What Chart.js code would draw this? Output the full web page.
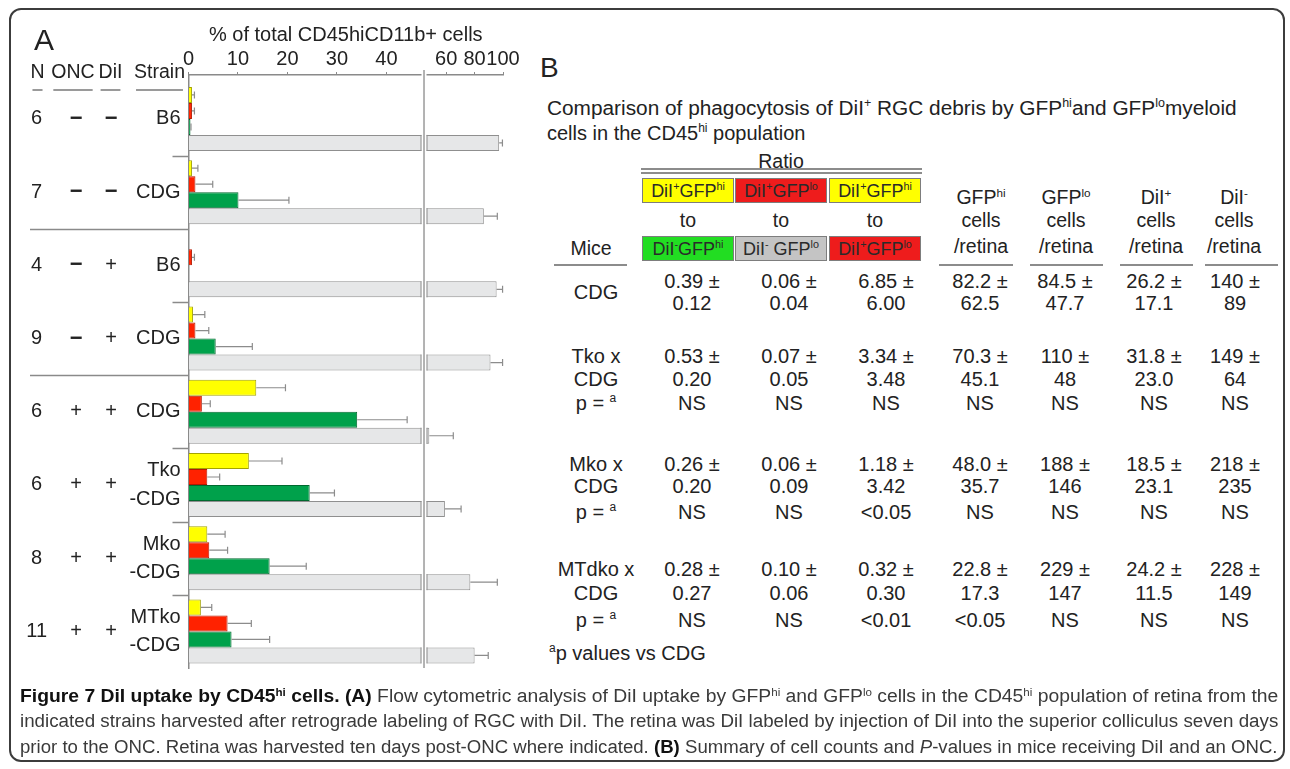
<!DOCTYPE html>
<html>
<head>
<meta charset="utf-8">
<title>Figure 7</title>
<script src="https://cdn.jsdelivr.net/npm/chart.js@4.4.1/dist/chart.umd.min.js"></script>
<style>
  body { margin: 0; background: #fff; }
  #page { position: relative; width: 1290px; height: 769px; overflow: hidden; background: #fff;
          font-family: "Liberation Sans", Arial, sans-serif; color: #222; }
  #frame { position: absolute; left: 9px; top: 8px; width: 1272px; height: 750px;
           border: 2px solid #3c3c3c; border-radius: 12px; pointer-events: none; }
  #chart-box { position: absolute; left: 0; top: 0; width: 530px; height: 690px; }
  .lbl { position: absolute; white-space: nowrap; line-height: 1.15; transform: translate(-50%, -50%); }
  .lft { transform: translate(0, -50%); transform-origin: 0 50%; }
  sup { font-size: 0.6em; vertical-align: 0.62em; line-height: 0; }
  .box { position: absolute; height: 25px; line-height: 25px; text-align: center; font-size: 18px;
         border: 1px solid #7d7d7d; box-sizing: border-box; color: #2a2a2a; white-space: nowrap; }
  .rule { position: absolute; height: 0; border-top: 2px solid #8c8c8c; }
  .cap { position: absolute; left: 20px; white-space: nowrap; font-size: 18px; color: #3a3a3a; line-height: 1.2; }
  .cap b { color: #111; }
</style>
</head>
<body>
<div id="page">
  <div id="chart-box"><canvas id="chart"></canvas></div>
  <div id="panel-b"></div>
  <div id="caption"></div>
  <div class="lbl lft" style="left:34px;top:40px;font-size:30px;">A</div>
  <div id="frame"></div>
</div>
<script>
//row labels of panel A (top to bottom)
const nLabels = ["6", "7", "4", "9", "6", "6", "8", "11"];
const oncLabels = ["−", "−", "−", "−", "+", "+", "+", "+"];
const dilLabels = ["−", "−", "+", "+", "+", "+", "+", "+"];
const strainLabels = ["B6", "CDG", "B6", "CDG", "CDG", ["Tko", "-CDG"], ["Mko", "-CDG"], ["MTko", "-CDG"]];
const xTicks = [0, 10, 20, 30, 40, 60, 80, 100];

//% of total CD45hiCD11b+ cells, mean and error
const yellowMean = [0.7, 0.7, 0, 0.9, 13.7, 12.2, 3.8, 2.5];
const yellowErr = [0.5, 1.2, 0, 2.4, 5.9, 6.7, 3.6, 2.2];
const redMean = [0.7, 1.4, 0.7, 1.4, 2.7, 3.8, 4.2, 7.9];
const redErr = [0.5, 3.5, 0.5, 2.7, 1.7, 2.5, 3.7, 4.8];
const greenMean = [0.4, 10.1, 0, 5.5, 34.1, 24.5, 16.4, 8.7];
const greenErr = [0.1, 10.2, 0, 7.4, 10.1, 5.0, 7.4, 7.7];
const grayMean = [97.3, 86.5, 95.5, 91.2, 48.1, 59.1, 77.0, 80.0];
const grayErr = [2.3, 9.5, 4.2, 8.5, 16.9, 11.4, 19.0, 9.6];

//panel B table
const miceCDG = ["CDG"];
const miceTko = ["Tko x", "CDG", "p = <sup>a</sup>"];
const miceMko = ["Mko x", "CDG", "p = <sup>a</sup>"];
const miceMTdko = ["MTdko x", "CDG", "p = <sup>a</sup>"];
const rowCDG = [["0.39 ±", "0.12"], ["0.06 ±", "0.04"], ["6.85 ±", "6.00"], ["82.2 ±", "62.5"], ["84.5 ±", "47.7"], ["26.2 ±", "17.1"], ["140 ±", "89"]];
const rowTko = [["0.53 ±", "0.20", "NS"], ["0.07 ±", "0.05", "NS"], ["3.34 ±", "3.48", "NS"], ["70.3 ±", "45.1", "NS"], ["110 ±", "48", "NS"], ["31.8 ±", "23.0", "NS"], ["149 ±", "64", "NS"]];
const rowMko = [["0.26 ±", "0.20", "NS"], ["0.06 ±", "0.09", "NS"], ["1.18 ±", "3.42", "&lt;0.05"], ["48.0 ±", "35.7", "NS"], ["188 ±", "146", "NS"], ["18.5 ±", "23.1", "NS"], ["218 ±", "235", "NS"]];
const rowMTdko = [["0.28 ±", "0.27", "NS"], ["0.10 ±", "0.06", "NS"], ["0.32 ±", "0.30", "&lt;0.01"], ["22.8 ±", "17.3", "&lt;0.05"], ["229 ±", "147", "NS"], ["24.2 ±", "11.5", "NS"], ["228 ±", "149", "NS"]];

//broken x axis: 0-47 then 46.5-100
const BREAK_AT = 47;
const RESUME_AT = 46.5;
const SPLIT_A = 0.7393;
const SPLIT_B = 0.7584;
const Y_MIN = -0.6;
const Y_MAX = 7.5;
const FONT = '"Liberation Sans", Arial, sans-serif';

class BrokenScale extends Chart.LinearScale {
  buildTicks() {
    return xTicks.map((v) => ({ value: v }));
  }
  getPixelForValue(value) {
    let d;
    if (value <= BREAK_AT) {
      d = (value / BREAK_AT) * SPLIT_A;
    } else {
      d = SPLIT_B + ((value - RESUME_AT) / (this.max - RESUME_AT)) * (1 - SPLIT_B);
    }
    return this.getPixelForDecimal(d);
  }
  getValueForPixel(pixel) {
    const d = this.getDecimalForPixel(pixel);
    if (d <= SPLIT_A) return (d / SPLIT_A) * BREAK_AT;
    return RESUME_AT + ((d - SPLIT_B) / (1 - SPLIT_B)) * (this.max - RESUME_AT);
  }
}
BrokenScale.id = "broken";
Chart.register(BrokenScale);

Chart.defaults.font.family = FONT;
Chart.defaults.color = "#222";

function series(label, mean, err, fill, border) {
  return {
    label: label,
    data: mean.map((v, i) => ({ x: v, y: i })),
    err: err,
    backgroundColor: fill,
    borderColor: border,
    borderWidth: 1
  };
}

function sideAxis(labels, weight, width, padding, align) {
  return {
    type: "linear",
    position: "left",
    reverse: true,
    offset: false,
    min: Y_MIN,
    max: Y_MAX,
    weight: weight,
    grid: { display: false, drawTicks: false, offset: false },
    border: { display: false },
    afterBuildTicks: (s) => { s.ticks = labels.map((_, i) => ({ value: i })); },
    afterFit: (s) => { s.width = width; s.paddingTop = 0; s.paddingBottom = 0; },
    ticks: {
      autoSkip: false,
      padding: padding,
      crossAlign: align,
      color: "#222",
      font: (c) => labels[c.index] === "−"
        ? { size: 22, weight: "bold", lineHeight: 1.42 }
        : { size: 20, lineHeight: 1.42 },
      callback: (v) => labels[v]
    }
  };
}

//error bars and the axis break
const errorBarsAndBreak = {
  id: "errorBarsAndBreak",
  afterDatasetsDraw(chart) {
    const { ctx, chartArea, scales: { x } } = chart;
    ctx.save();
    ctx.strokeStyle = "#8c8c8c";
    ctx.lineWidth = 1.2;
    chart.data.datasets.forEach((ds, di) => {
      chart.getDatasetMeta(di).data.forEach((bar, i) => {
        const e = ds.err[i];
        if (!e) return;
        const x2 = x.getPixelForValue(ds.data[i].x + e);
        ctx.beginPath();
        ctx.moveTo(bar.x, bar.y);
        ctx.lineTo(x2, bar.y);
        ctx.moveTo(x2, bar.y - 3.5);
        ctx.lineTo(x2, bar.y + 3.5);
        ctx.stroke();
      });
    });

    const bx1 = x.getPixelForValue(BREAK_AT);
    const bx2 = x.getPixelForDecimal(SPLIT_B);
    ctx.fillStyle = "#fff";
    ctx.fillRect(bx1 + 0.5, chartArea.top - 6, bx2 - bx1 - 1, chartArea.bottom - chartArea.top + 7);

    //close the two pieces of each split gray bar
    ctx.strokeStyle = "#8f8f8f";
    ctx.lineWidth = 1;
    chart.getDatasetMeta(3).data.forEach((bar, i) => {
      if (grayMean[i] <= BREAK_AT) return;
      const top = bar.y - bar.height / 2;
      const bot = bar.y + bar.height / 2;
      ctx.beginPath();
      ctx.moveTo(bx1, top); ctx.lineTo(bx1, bot);
      ctx.moveTo(bx2, top); ctx.lineTo(bx2, bot);
      ctx.stroke();
    });

    ctx.strokeStyle = "#9a9a9a";
    ctx.lineWidth = 1.5;
    ctx.beginPath();
    ctx.moveTo((bx1 + bx2) / 2, chartArea.top - 5);
    ctx.lineTo((bx1 + bx2) / 2, chartArea.bottom);
    ctx.stroke();
    ctx.restore();
  }
};

//row separators and the column headers left of the plot
const rowDecor = {
  id: "rowDecor",
  afterDraw(chart) {
    const { ctx, scales } = chart;
    const y = scales.y;
    ctx.save();
    ctx.strokeStyle = "#8a8a8a";
    ctx.lineWidth = 1.5;
    for (let i = 0; i < strainLabels.length - 1; i++) {
      const py = Math.round(y.getPixelForValue(i + 0.5)) + 0.5;
      const newBlock = oncLabels[i] !== oncLabels[i + 1] || dilLabels[i] !== dilLabels[i + 1];
      const x0 = newBlock ? scales.yN.left + 20 : y.right - 16;
      ctx.beginPath();
      ctx.moveTo(x0, py);
      ctx.lineTo(y.right, py);
      ctx.stroke();
    }

    ctx.font = "19.5px " + FONT;
    ctx.fillStyle = "#222";
    ctx.textBaseline = "middle";
    const heads = [
      ["N", scales.yN.left + 27.5],
      ["ONC", scales.yOnc.left + 17],
      ["DiI", scales.yDil.left + 16.5],
      ["Strain", y.right - 29]
    ];
    ctx.strokeStyle = "#9a9a9a";
    ctx.lineWidth = 2;
    heads.forEach(([t, cx]) => {
      const w = ctx.measureText(t).width;
      ctx.textAlign = "center";
      ctx.fillText(t, cx, 73);
      ctx.beginPath();
      ctx.moveTo(cx - w / 2 + 2, 90);
      ctx.lineTo(cx + w / 2 - 2, 90);
      ctx.stroke();
    });
    ctx.restore();
  }
};

const strainAxis = sideAxis(strainLabels, 0, 60.5, 8, "near");
strainAxis.border = { display: true, color: "#8a8a8a", width: 1.5 };

new Chart(document.getElementById("chart"), {
  type: "bar",
  data: {
    datasets: [
      series("DiI+ GFPhi", yellowMean, yellowErr, "#ffff00", "#a3a300"),
      series("DiI+ GFPlo", redMean, redErr, "#ff2200", "#b51800"),
      series("DiI- GFPhi", greenMean, greenErr, "#00a14b", "#00692f"),
      series("DiI- GFPlo", grayMean, grayErr, "#e6e7e8", "#8f8f8f")
    ]
  },
  options: {
    indexAxis: "y",
    responsive: true,
    maintainAspectRatio: false,
    animation: false,
    layout: { padding: { left: 10, top: 0, right: 27, bottom: 22 } },
    datasets: { bar: { categoryPercentage: 0.874, barPercentage: 1 } },
    plugins: { legend: { display: false }, tooltip: { enabled: false } },
    scales: {
      x: {
        type: "broken",
        position: "top",
        min: 0,
        max: 100,
        grid: { drawOnChartArea: false, tickLength: 3, color: "#8a8a8a" },
        border: { color: "#8a8a8a", width: 1.5 },
        ticks: { autoSkip: false, maxRotation: 0, padding: 1, font: { size: 20 }, color: "#222", callback: (v) => String(v) },
        title: { display: true, text: "% of total CD45hiCD11b+ cells", font: { size: 20 }, color: "#222", padding: { top: 23, bottom: 0 } },
        afterFit: (s) => { s.height = 75; s.paddingLeft = 0; s.paddingRight = 0; }
      },
      y: strainAxis,
      yDil: sideAxis(dilLabels, 1, 34, 10.5, "center"),
      yOnc: sideAxis(oncLabels, 2, 38, 11.5, "center"),
      yN: sideAxis(nLabels, 3, 46, 9, "center")
    }
  },
  plugins: [errorBarsAndBreak, rowDecor]
});

//panel B
const panelB = document.getElementById("panel-b");
function put(html, x, y, size, left) {
  const d = document.createElement("div");
  d.className = left ? "lbl lft" : "lbl";
  d.innerHTML = html;
  d.style.left = x + "px";
  d.style.top = y + "px";
  d.style.fontSize = size + "px";
  panelB.appendChild(d);
  return d;
}
function box(html, x, y, bg) {
  const d = document.createElement("div");
  d.className = "box";
  d.innerHTML = html;
  d.style.left = x + "px";
  d.style.top = y + "px";
  d.style.width = "92px";
  d.style.background = bg;
  panelB.appendChild(d);
}
function rule(x1, x2, y) {
  const d = document.createElement("div");
  d.className = "rule";
  d.style.left = x1 + "px";
  d.style.top = y + "px";
  d.style.width = (x2 - x1) + "px";
  panelB.appendChild(d);
}

put("B", 540, 68, 28, true);
const t1 = put("Comparison of phagocytosis of DiI<sup>+</sup> RGC debris by GFP<sup>hi</sup>and GFP<sup>lo</sup>myeloid", 547, 108, 20, true);
put("cells in the CD45<sup>hi</sup> population", 547, 133, 20, true);

put("Ratio", 781, 161, 19.5);
rule(641, 922, 168);
rule(641, 922, 172);
const boxX = [642, 735, 829];
box("DiI<sup>+</sup>GFP<sup>hi</sup>", boxX[0], 178, "#ffff00");
box("DiI<sup>+</sup>GFP<sup>lo</sup>", boxX[1], 178, "#ee1c1c");
box("DiI<sup>+</sup>GFP<sup>hi</sup>", boxX[2], 178, "#ffff00");
box("DiI<sup>-</sup>GFP<sup>hi</sup>", boxX[0], 236, "#22dd22");
box("DiI<sup>-</sup> GFP<sup>lo</sup>", boxX[1], 236, "#c4c4c4");
box("DiI<sup>+</sup>GFP<sup>lo</sup>", boxX[2], 236, "#ee1c1c");
boxX.forEach((bx) => put("to", bx + 46, 220, 19.5));
put("Mice", 591, 248, 19.5);

const headX = [981, 1066, 1156, 1234];
const headTop = ["GFP<sup>hi</sup>", "GFP<sup>lo</sup>", "DiI<sup>+</sup>", "DiI<sup>-</sup>"];
headTop.forEach((h, i) => {
  put(h, headX[i], 197, 19.5);
  put("cells", headX[i], 220, 19.5);
  put("/retina", headX[i], 246, 19.5);
});
rule(554, 627, 264);
rule(939, 1013, 264);
rule(1030, 1103, 264);
rule(1120, 1193, 264);
rule(1205, 1278, 264);

const colX = [692, 789, 886, 980, 1065, 1154, 1235];
const blocks = [
  [miceCDG, rowCDG, [281, 303], [292]],
  [miceTko, rowTko, [356, 379, 403], [356, 379, 403]],
  [miceMko, rowMko, [464, 486, 512], [464, 486, 512]],
  [miceMTdko, rowMTdko, [569, 593, 620], [569, 593, 620]]
];
blocks.forEach(([mice, row, ys, miceYs]) => {
  mice.forEach((m, k) => put(m, 596, miceYs[k], 20));
  row.forEach((cell, c) => cell.forEach((v, k) => put(v, colX[c], ys[k], 20)));
});
put("<sup>a</sup>p values vs CDG", 549, 653, 20, true);

//caption
const capLines = [
  "<b>Figure 7 DiI uptake by CD45<sup>hi</sup> cells. (A)</b> Flow cytometric analysis of DiI uptake by GFP<sup>hi</sup> and GFP<sup>lo</sup> cells in the CD45<sup>hi</sup> population of retina from the",
  "indicated strains harvested after retrograde labeling of RGC with DiI. The retina was DiI labeled by injection of DiI into the superior colliculus seven days",
  "prior to the ONC. Retina was harvested ten days post-ONC where indicated. <b>(B)</b> Summary of cell counts and <i>P</i>-values in mice receiving DiI and an ONC."
];
const capY = [697, 722, 748];
const caption = document.getElementById("caption");
capLines.forEach((html, i) => {
  const d = document.createElement("div");
  d.className = "cap";
  d.innerHTML = html;
  d.style.top = capY[i] + "px";
  caption.appendChild(d);
  const k = 1258 / d.offsetWidth;
  d.style.transformOrigin = "0 50%";
  d.style.transform = "translateY(-50%) scaleX(" + k + ")";
});
const k1 = 690 / t1.offsetWidth;
t1.style.transform = "translate(0,-50%) scaleX(" + k1 + ")";
</script>
</body>
</html>
